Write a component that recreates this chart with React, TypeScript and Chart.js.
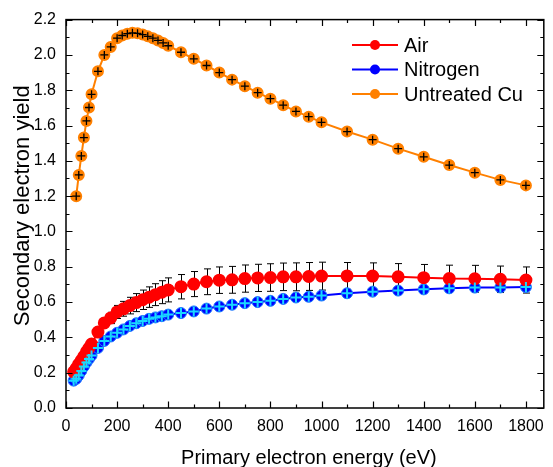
import React, { useEffect, useRef } from 'react';
import { Chart, registerables } from 'chart.js';

Chart.register(...registerables);

// ---------- data ----------
const xTickValues = [0, 200, 400, 600, 800, 1000, 1200, 1400, 1600, 1800];
const yTickValues = [0, 0.2, 0.4, 0.6, 0.8, 1.0, 1.2, 1.4, 1.6, 1.8, 2.0, 2.2];

const gasEnergy = [30, 40, 50, 60, 70, 80, 90, 100, 125, 150, 175, 200, 225, 250, 275, 300, 325, 350, 375, 400,
  450, 500, 550, 600, 650, 700, 750, 800, 850, 900, 950, 1000, 1100, 1200, 1300, 1400, 1500, 1600, 1700, 1800];

const airYield = [0.205, 0.225, 0.248, 0.27, 0.293, 0.318, 0.34, 0.362, 0.43, 0.482, 0.51, 0.544, 0.562, 0.58, 0.597,
  0.613, 0.628, 0.642, 0.656, 0.669, 0.687, 0.702, 0.715, 0.724, 0.726, 0.733, 0.737, 0.739, 0.743, 0.743, 0.745,
  0.747, 0.748, 0.747, 0.743, 0.738, 0.733, 0.732, 0.729, 0.725];

const airError = [0.005, 0.007, 0.009, 0.011, 0.013, 0.015, 0.017, 0.019, 0.022, 0.026, 0.032, 0.037, 0.042, 0.047,
  0.051, 0.055, 0.058, 0.062, 0.065, 0.068, 0.069, 0.071, 0.073, 0.075, 0.076, 0.077, 0.077, 0.078, 0.078, 0.079,
  0.079, 0.079, 0.076, 0.075, 0.075, 0.075, 0.076, 0.076, 0.075, 0.074];

const nitrogenYield = [0.155, 0.165, 0.185, 0.21, 0.235, 0.258, 0.278, 0.298, 0.34, 0.38, 0.405, 0.426, 0.445, 0.465,
  0.48, 0.493, 0.505, 0.513, 0.52, 0.529, 0.538, 0.547, 0.563, 0.575, 0.585, 0.594, 0.6, 0.607, 0.618, 0.626, 0.63,
  0.637, 0.65, 0.659, 0.665, 0.672, 0.678, 0.682, 0.683, 0.685];

const cuEnergy = [40, 50, 60, 70, 80, 90, 100, 125, 150, 175, 200, 220, 240, 260, 280, 300, 320, 340, 360, 380, 400,
  450, 500, 550, 600, 650, 700, 750, 800, 850, 900, 950, 1000, 1100, 1200, 1300, 1400, 1500, 1600, 1700, 1800];

const cuYield = [1.2, 1.32, 1.428, 1.532, 1.626, 1.702, 1.777, 1.907, 2.0, 2.045, 2.095, 2.11, 2.12, 2.125, 2.122,
  2.115, 2.105, 2.095, 2.082, 2.068, 2.052, 2.015, 1.978, 1.94, 1.9, 1.86, 1.823, 1.786, 1.752, 1.715, 1.68, 1.65,
  1.618, 1.566, 1.52, 1.469, 1.423, 1.376, 1.333, 1.292, 1.261];

const seriesNames = ['Air', 'Nitrogen', 'Untreated Cu'];
const seriesColors = ['#ff0000', '#0000ff', '#ff8000'];
const xTitle = 'Primary electron energy (eV)';
const yTitle = 'Secondary electron yield';

const FONT = '"Liberation Sans", Arial, sans-serif';

const toPoints = (xs: number[], ys: number[]) => xs.map((x, i) => ({ x, y: ys[i] }));

const errorBarPlugin = {
  id: 'errorBars',
  beforeDatasetsDraw(chart: any) {
    const { ctx, scales } = chart;
    const xs = scales.x, ys = scales.y;
    ctx.save();
    ctx.strokeStyle = '#000';
    ctx.lineWidth = 1;
    gasEnergy.forEach((e, i) => {
      const px = Math.round(xs.getPixelForValue(e)) + 0.5;
      const top = ys.getPixelForValue(airYield[i] + airError[i]);
      const bot = ys.getPixelForValue(airYield[i] - airError[i]);
      ctx.beginPath();
      ctx.moveTo(px, top); ctx.lineTo(px, bot);
      ctx.moveTo(px - 3.5, top); ctx.lineTo(px + 3.5, top);
      ctx.moveTo(px - 3.5, bot); ctx.lineTo(px + 3.5, bot);
      ctx.stroke();
    });
    ctx.restore();
  },
};

const framePlugin = {
  id: 'frame',
  afterDraw(chart: any) {
    const { ctx, chartArea: a, scales } = chart;
    const xs = scales.x, ys = scales.y;
    ctx.save();
    ctx.strokeStyle = '#000';
    ctx.lineWidth = 1.5;
    ctx.strokeRect(a.left, a.top, a.right - a.left, a.bottom - a.top);
    ctx.lineWidth = 1.2;
    ctx.beginPath();
    const xMinor = xTickValues.slice(0, -1).map((v, i) => (v + xTickValues[i + 1]) / 2);
    const yMinor = yTickValues.slice(0, -1).map((v, i) => (v + yTickValues[i + 1]) / 2);
    const xt = (v: number, len: number) => {
      const px = Math.round(xs.getPixelForValue(v)) + 0.5;
      ctx.moveTo(px, a.bottom); ctx.lineTo(px, a.bottom - len);
      ctx.moveTo(px, a.top); ctx.lineTo(px, a.top + len);
    };
    const yt = (v: number, len: number) => {
      const py = Math.round(ys.getPixelForValue(v)) + 0.5;
      ctx.moveTo(a.left, py); ctx.lineTo(a.left + len, py);
      ctx.moveTo(a.right, py); ctx.lineTo(a.right - len, py);
    };
    xTickValues.forEach(v => xt(v, 6.5));
    xMinor.forEach(v => xt(v, 3.5));
    yTickValues.forEach(v => yt(v, 6.5));
    yMinor.forEach(v => yt(v, 3.5));
    ctx.stroke();

    // axis titles
    ctx.fillStyle = '#000';
    ctx.font = `20px ${FONT}`;
    ctx.textAlign = 'center';
    ctx.textBaseline = 'alphabetic';
    ctx.fillText(xTitle, (a.left + a.right) / 2 + 4, 464);
    ctx.save();
    ctx.translate(29, (a.top + a.bottom) / 2 - 8);
    ctx.rotate(-Math.PI / 2);
    ctx.font = `22px ${FONT}`;
    ctx.fillText(yTitle, 0, 0);
    ctx.restore();

    // legend
    ctx.font = `20px ${FONT}`;
    ctx.textAlign = 'left';
    ctx.textBaseline = 'middle';
    seriesNames.forEach((name, i) => {
      const cy = 45 + i * 24.5;
      ctx.strokeStyle = seriesColors[i];
      ctx.fillStyle = seriesColors[i];
      ctx.lineWidth = 2;
      ctx.beginPath();
      ctx.moveTo(352, cy); ctx.lineTo(398, cy);
      ctx.stroke();
      ctx.beginPath();
      ctx.arc(375, cy, 5, 0, Math.PI * 2);
      ctx.fill();
      ctx.fillStyle = '#000';
      ctx.fillText(name, 404, cy + 1);
    });
    ctx.restore();
  },
};

export default function App() {
  const ref = useRef<HTMLCanvasElement>(null);
  useEffect(() => {
    document.body.style.margin = '0';
    const canvas = ref.current!;
    const chart = new Chart(canvas, {
      type: 'line',
      data: {
        datasets: [
          {
            label: 'nitrogen-marks',
            data: toPoints(gasEnergy, nitrogenYield),
            showLine: false,
            pointStyle: 'cross',
            pointRadius: 5,
            pointBorderWidth: 2,
            borderColor: '#19d9ff',
            order: -2,
          },
          {
            label: 'cu-marks',
            data: toPoints(cuEnergy, cuYield),
            showLine: false,
            pointStyle: 'cross',
            pointRadius: 4,
            pointBorderWidth: 1.3,
            borderColor: '#000',
            order: -2,
          },
          {
            label: seriesNames[0],
            data: toPoints(gasEnergy, airYield),
            borderColor: seriesColors[0],
            backgroundColor: seriesColors[0],
            pointBackgroundColor: seriesColors[0],
            pointBorderColor: seriesColors[0],
            borderWidth: 2,
            pointRadius: 5.5,
            order: 0,
          },
          {
            label: seriesNames[1],
            data: toPoints(gasEnergy, nitrogenYield),
            borderColor: seriesColors[1],
            backgroundColor: seriesColors[1],
            pointBackgroundColor: seriesColors[1],
            pointBorderColor: '#1f7fff',
            pointBorderWidth: 1,
            borderWidth: 2,
            pointRadius: 5.5,
            order: 1,
          },
          {
            label: seriesNames[2],
            data: toPoints(cuEnergy, cuYield),
            borderColor: seriesColors[2],
            backgroundColor: seriesColors[2],
            pointBackgroundColor: seriesColors[2],
            pointBorderColor: seriesColors[2],
            borderWidth: 2,
            pointRadius: 5,
            order: 2,
          },
        ],
      },
      options: {
        responsive: false,
        animation: false,
        events: [],
        layout: { padding: { top: 14, right: 5, left: 0, bottom: 0 } },
        plugins: { legend: { display: false }, tooltip: { enabled: false } },
        scales: {
          x: {
            type: 'linear',
            min: 0,
            max: 1870,
            grid: { display: false, drawTicks: false },
            border: { display: false },
            afterBuildTicks: (s: any) => { s.ticks = xTickValues.map(v => ({ value: v })); },
            afterFit: (s: any) => { s.height = 59; },
            ticks: {
              color: '#000',
              font: { family: FONT, size: 16 },
              padding: 9,
              maxRotation: 0,
              autoSkip: false,
              callback: (v: any) => String(v),
            },
          },
          y: {
            type: 'linear',
            min: 0,
            max: 2.2,
            grid: { display: false, drawTicks: false },
            border: { display: false },
            afterBuildTicks: (s: any) => { s.ticks = yTickValues.map(v => ({ value: v })); },
            afterFit: (s: any) => { s.width = 66; },
            ticks: {
              color: '#000',
              font: { family: FONT, size: 16 },
              padding: 10,
              autoSkip: false,
              callback: (v: any) => Number(v).toFixed(1),
            },
          },
        },
      },
      plugins: [errorBarPlugin, framePlugin],
    } as any);
    return () => chart.destroy();
  }, []);
  return (
    <div style={{ width: 553, height: 467 }}>
      <canvas ref={ref} width={553} height={467} style={{ display: 'block' }} />
    </div>
  );
}
